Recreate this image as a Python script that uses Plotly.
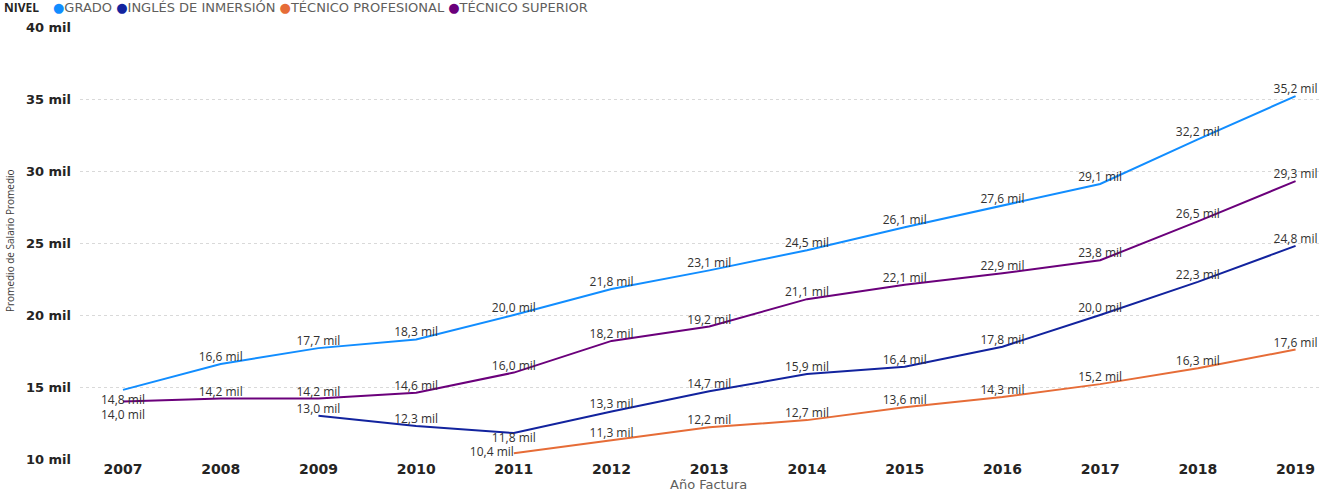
import plotly.graph_objects as go

years_grado = [2007, 2008, 2009, 2010, 2011, 2012, 2013, 2014, 2015, 2016, 2017, 2018, 2019]
grado = [14.8, 16.6, 17.7, 18.3, 20.0, 21.8, 23.1, 24.5, 26.1, 27.6, 29.1, 32.2, 35.2]

years_ingles = [2009, 2010, 2011, 2012, 2013, 2014, 2015, 2016, 2017, 2018, 2019]
ingles = [13.0, 12.3, 11.8, 13.3, 14.7, 15.9, 16.4, 17.8, 20.0, 22.3, 24.8]

years_tprof = [2011, 2012, 2013, 2014, 2015, 2016, 2017, 2018, 2019]
tprof = [10.4, 11.3, 12.2, 12.7, 13.6, 14.3, 15.2, 16.3, 17.6]

years_tsup = [2007, 2008, 2009, 2010, 2011, 2012, 2013, 2014, 2015, 2016, 2017, 2018, 2019]
tsup = [14.0, 14.2, 14.2, 14.6, 16.0, 18.2, 19.2, 21.1, 22.1, 22.9, 23.8, 26.5, 29.3]

all_years = list(range(2007, 2020))
y_ticks = [10, 15, 20, 25, 30, 35, 40]

FONT = "Open Sans, Segoe UI, sans-serif"
WIDE = "DejaVu Sans, sans-serif"
LABEL_FONT = dict(family=FONT, size=12, color="#323130")


def fmt(v):
    return f"{v:.1f}".replace(".", ",") + " mil"


# (name, x, y, color, special text positions, labels placed below the first point with a pixel shift)
series = [
    ("GRADO", years_grado, grado, "#118DFF", {2011: None}, -10),
    ("INGLÉS DE INMERSIÓN", years_ingles, ingles, "#12239E", {2011: "bottom center"}, None),
    ("TÉCNICO PROFESIONAL", years_tprof, tprof, "#E66C37", {2011: "middle left"}, None),
    ("TÉCNICO SUPERIOR", years_tsup, tsup, "#6B007B", {}, -13),
]

W, H = 1320, 491
L, R, T, B = 80, 0, 27, 32
PW, PH = W - L - R, H - T - B


def px(x):
    return (x - L) / PW


def py(y):
    return (H - B - y) / PH


fig = go.Figure()
annotations = []
for name, xs, ys, color, special, first_shift in series:
    texts = [fmt(v) for v in ys]
    positions = [special.get(x, "top center") or "top center" for x in xs]
    if first_shift is not None:
        # first label sits below its point; drawn as an annotation anchored on the data point
        annotations.append(dict(
            x=xs[0], y=ys[0], xref="x", yref="y", text=texts[0], showarrow=False,
            xanchor="center", yanchor="middle", yshift=first_shift, font=LABEL_FONT,
        ))
        texts[0] = ""
    fig.add_trace(go.Scatter(
        x=xs, y=ys, mode="lines+text", name=name,
        line=dict(color=color, width=2),
        text=texts, textposition=positions, textfont=LABEL_FONT,
        cliponaxis=False, showlegend=False,
    ))

# Compact legend drawn as rich text (like the reference)
legend_items = " ".join(
    f"<span style='color:{s[3]}'>●</span>{s[0]}" for s in series
)

annotations += [
    dict(text="<b>NIVEL</b>", xref="paper", yref="paper", x=px(2), y=py(7),
         xanchor="left", yanchor="middle", showarrow=False,
         font=dict(family=FONT, size=12, color="#252423")),
    dict(text=legend_items, xref="paper", yref="paper", x=px(51), y=py(7),
         xanchor="left", yanchor="middle", showarrow=False, align="left",
         font=dict(family=WIDE, size=13, color="#605E5C")),
    dict(text="Año Factura", xref="paper", yref="paper", x=px(709), y=py(484),
         xanchor="center", yanchor="middle", showarrow=False,
         font=dict(family=WIDE, size=13, color="#605E5C")),
    dict(text="Promedio de Salario Promedio", xref="paper", yref="paper",
         x=px(10), y=py(241), xanchor="center", yanchor="middle", textangle=-90,
         showarrow=False, font=dict(family=FONT, size=10, color="#3B3A39")),
]

fig.update_layout(
    width=W, height=H,
    margin=dict(l=L, r=R, t=T, b=B, autoexpand=False),
    plot_bgcolor="white", paper_bgcolor="white",
    font=dict(family=FONT, color="#605E5C"),
    showlegend=False,
    xaxis=dict(
        range=[2006.56, 2019.25], tickmode="array", tickvals=all_years,
        ticktext=[str(y) for y in all_years],
        tickfont=dict(family=WIDE, size=14, color="#252423", weight="bold"),
        showgrid=False, zeroline=False, showline=False, ticks="",
        automargin=False,
    ),
    yaxis=dict(
        range=[10, 40], tickmode="array", tickvals=y_ticks,
        ticktext=[f"{v} mil" for v in y_ticks],
        tickfont=dict(family=WIDE, size=13, color="#252423", weight="bold"),
        showgrid=True, gridcolor="#D9D9D9", griddash="dot", gridwidth=1,
        zeroline=False, showline=False, ticks="", ticklabelstandoff=8,
        automargin=False,
    ),
    annotations=annotations,
)

fig.write_html(
    "out.html",
    config={"displayModeBar": False},
    post_script="document.body.style.margin='0';document.body.style.overflow='hidden';",
)
